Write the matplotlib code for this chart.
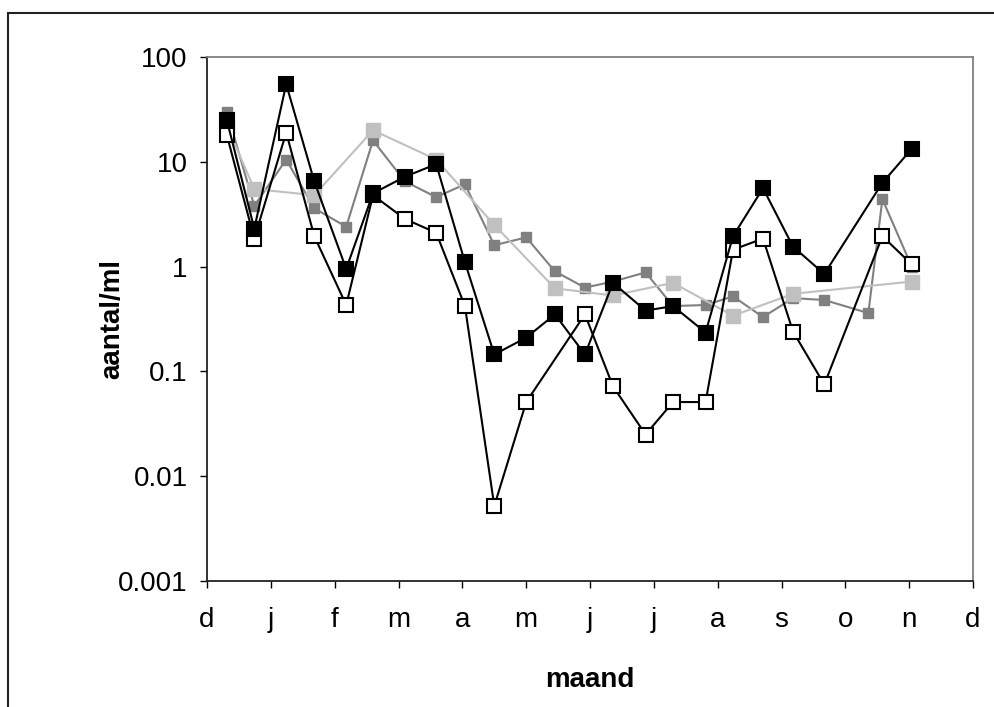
import matplotlib
matplotlib.use("Agg")
import matplotlib.pyplot as plt
from matplotlib.patches import Rectangle

plt.rcParams['font.family'] = ['Liberation Sans', 'DejaVu Sans']

month_labels = ['d', 'j', 'f', 'm', 'a', 'm', 'j', 'j', 'a', 's', 'o', 'n', 'd']

# sample dates as months since 1 December
x_black = [0.31, 0.74, 1.24, 1.68, 2.18, 2.60, 3.10, 3.59, 4.04, 4.50, 5.00, 5.45,
           5.92, 6.36, 6.87, 7.30, 7.81, 8.24, 8.71, 9.18, 9.67, 10.58, 11.04]
y_black = [25, 2.3, 55, 6.5, 0.95, 5.0, 7.2, 9.5, 1.1, 0.145, 0.21, 0.35,
           0.145, 0.7, 0.38, 0.42, 0.235, 1.95, 5.6, 1.55, 0.85, 6.3, 13.3]

x_white = [0.31, 0.74, 1.24, 1.68, 2.18, 2.60, 3.10, 3.59, 4.04, 4.50, 5.00,
           5.92, 6.36, 6.87, 7.30, 7.81, 8.24, 8.71, 9.18, 9.67, 10.58, 11.04]
y_white = [18, 1.85, 19, 1.95, 0.43, 4.8, 2.85, 2.1, 0.42, 0.0052, 0.051,
           0.35, 0.072, 0.025, 0.051, 0.051, 1.45, 1.85, 0.24, 0.075, 1.95, 1.05]

x_gray = [0.31, 0.74, 1.24, 1.68, 2.18, 2.60, 3.10, 3.59, 4.04, 4.50, 5.00, 5.45,
          5.92, 6.36, 6.87, 7.30, 7.81, 8.24, 8.71, 9.18, 9.67, 10.36, 10.58, 11.04]
y_gray = [30, 3.8, 10.5, 3.6, 2.4, 16, 6.5, 4.6, 6.1, 1.6, 1.9, 0.9,
          0.63, 0.72, 0.88, 0.42, 0.43, 0.52, 0.33, 0.5, 0.48, 0.36, 4.4, 1.0]

x_light = [0.31, 0.74, 1.68, 2.60, 3.59, 4.50, 5.45, 6.36, 7.30, 8.24, 9.18, 11.04]
y_light = [22, 5.5, 4.8, 20, 10.5, 2.5, 0.62, 0.53, 0.7, 0.34, 0.55, 0.72]

fig = plt.figure(figsize=(9.94, 7.07), dpi=100)
ax = fig.add_axes([0.2083, 0.1782, 0.7706, 0.7412])

ax.plot(x_gray, y_gray, color='#808080', lw=1.5, marker='s', ms=7.5,
        mfc='#808080', mec='#808080', zorder=2)
ax.plot(x_light, y_light, color='#c0c0c0', lw=1.5, marker='s', ms=10,
        mfc='#c0c0c0', mec='#c0c0c0', zorder=3)
ax.plot(x_white, y_white, color='black', lw=1.5, marker='s', ms=9.5,
        mfc='white', mec='black', mew=1.5, zorder=4)
ax.plot(x_black, y_black, color='black', lw=1.5, marker='s', ms=9.5,
        mfc='black', mec='black', mew=1.5, zorder=5)

ax.set_yscale('log')
ax.set_ylim(0.001, 100)
ax.set_xlim(0, 12)
ax.set_yticks([0.001, 0.01, 0.1, 1, 10, 100])
ax.set_yticklabels(['0.001', '0.01', '0.1', '1', '10', '100'])
ax.minorticks_off()
ax.set_xticks(range(13))
ax.set_xticklabels(month_labels)
ax.tick_params(axis='both', direction='out', length=5, width=1, labelsize=20)
ax.tick_params(axis='y', pad=9)
ax.tick_params(axis='x', pad=14)

for side in ['left', 'bottom']:
    ax.spines[side].set_color('#222222')
    ax.spines[side].set_linewidth(1.3)
for side in ['top', 'right']:
    ax.spines[side].set_color('#808080')
    ax.spines[side].set_linewidth(1.3)

ax.set_xlabel('maand', fontsize=20, fontweight='bold', va='center')
ax.xaxis.set_label_coords(0.5, -0.189)
ax.set_ylabel('aantal/ml', fontsize=20, fontweight='bold', va='center')
ax.yaxis.set_label_coords(-0.124, 0.5)

# outer frame of the chart area
fig.patches.append(Rectangle((8 / 994, -0.1), 1.1, 1.1 - 13 / 707,
                             transform=fig.transFigure, fill=False,
                             edgecolor='#222222', lw=1.5))

fig.savefig('out.png', dpi=100)
